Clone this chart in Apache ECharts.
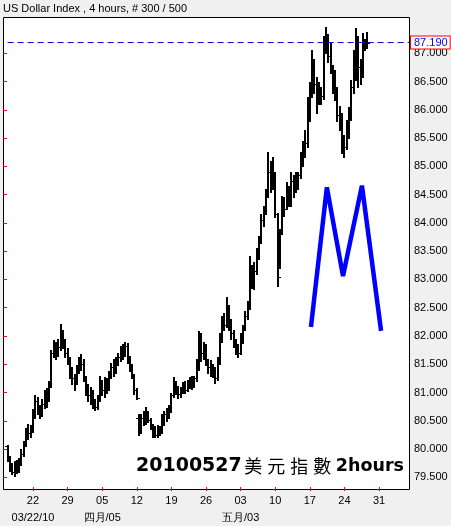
<!DOCTYPE html>
<html>
<head>
<meta charset="utf-8">
<script src="https://cdn.jsdelivr.net/npm/echarts@6/dist/echarts.min.js"></script>
<style>
html,body{margin:0;padding:0;background:#f0f0f0;}
#c{width:451px;height:526px;}
</style>
</head>
<body>
<div id="c"></div>
<script>
// ---- data (4-hour OHLC bars, slot index = position on the time axis) ----
const slotCount = 177;
const firstSlot = 2;
const barOpen = [
80.05,79.85,79.70,79.60,79.72,79.65,79.78,79.92,80.10,80.30,
80.28,80.35,80.60,80.85,80.70,80.62,80.80,80.95,80.88,81.15,
81.70,81.85,81.72,81.80,82.05,81.88,81.70,81.58,81.35,81.25,
81.20,81.40,81.58,81.50,81.25,81.05,80.95,81.00,80.80,80.75,
80.90,81.15,81.05,81.20,81.10,81.30,81.45,81.40,81.55,81.62,
81.75,81.70,81.82,81.60,81.45,81.30,81.05,80.55,80.30,80.55,
80.48,80.60,80.52,80.40,80.30,80.25,80.35,80.30,80.50,80.62,
80.58,80.70,80.95,81.15,81.05,80.98,81.05,81.12,81.05,81.15,
81.20,81.15,81.25,81.50,81.85,81.70,81.78,81.55,81.45,81.40,
81.35,81.25,81.55,81.95,82.25,82.20,82.45,82.20,82.05,81.85,
81.75,81.70,81.95,82.15,82.35,82.55,83.00,82.95,83.15,83.45,
83.70,84.05,84.25,84.50,84.90,84.80,84.85,84.15,83.25,83.85,
84.35,84.25,84.55,84.40,84.75,84.60,84.70,84.85,85.10,85.30,
85.42,85.90,86.30,86.70,86.45,86.20,86.35,86.25,87.10,87.25,
86.95,86.75,86.40,86.35,85.90,85.70,85.40,85.35,85.55,85.95,
86.40,86.90,87.20,86.75,86.60,87.10,87.15];
const barClose = [
79.85,79.70,79.60,79.72,79.65,79.78,79.92,80.10,80.30,80.28,
80.35,80.60,80.85,80.70,80.62,80.80,80.95,80.88,81.15,81.70,
81.85,81.72,81.80,82.05,81.88,81.70,81.58,81.35,81.25,81.20,
81.40,81.58,81.50,81.25,81.05,80.95,81.00,80.80,80.75,80.90,
81.15,81.05,81.20,81.10,81.30,81.45,81.40,81.55,81.62,81.75,
81.70,81.82,81.60,81.45,81.30,81.05,80.90,80.30,80.55,80.48,
80.60,80.52,80.40,80.30,80.25,80.35,80.30,80.50,80.62,80.58,
80.70,80.95,81.15,81.05,80.98,81.05,81.12,81.05,81.15,81.20,
81.15,81.25,81.50,81.85,81.70,81.78,81.55,81.45,81.40,81.35,
81.25,81.55,81.95,82.25,82.20,82.45,82.20,82.05,81.85,81.75,
81.70,81.95,82.15,82.35,82.55,83.00,82.95,83.15,83.45,83.70,
84.05,84.25,84.50,84.90,84.80,84.85,84.15,83.05,83.85,84.35,
84.25,84.55,84.40,84.75,84.60,84.70,84.85,85.10,85.30,85.42,
85.90,86.30,86.70,86.45,86.20,86.35,86.25,87.10,87.25,86.95,
86.75,86.40,86.35,85.90,85.70,85.40,85.35,85.55,85.95,86.40,
86.90,87.20,86.75,86.60,87.10,87.15,87.19];
const barLow = [
79.78,79.62,79.55,79.52,79.58,79.60,79.72,79.88,80.05,80.18,
80.22,80.30,80.55,80.62,80.55,80.58,80.72,80.75,80.85,81.10,
81.62,81.60,81.65,81.75,81.78,81.62,81.50,81.25,81.15,81.05,
81.15,81.35,81.40,81.20,80.95,80.85,80.80,80.72,80.69,80.70,
80.85,80.95,80.92,81.00,81.05,81.25,81.30,81.35,81.48,81.55,
81.60,81.65,81.52,81.38,81.25,80.98,80.88,80.25,80.28,80.42,
80.45,80.48,80.35,80.22,80.21,80.22,80.25,80.28,80.42,80.50,
80.55,80.65,80.92,80.98,80.90,80.92,81.00,81.00,81.02,81.08,
81.07,81.10,81.20,81.40,81.55,81.60,81.48,81.35,81.30,81.28,
81.16,81.22,81.50,81.90,82.10,82.15,82.10,81.95,81.80,81.68,
81.63,81.68,81.88,82.10,82.30,82.48,82.85,82.83,83.10,83.36,
83.65,83.95,84.15,84.45,84.55,84.60,84.10,82.89,83.20,83.80,
84.12,84.24,84.30,84.30,84.45,84.54,84.60,84.80,85.00,85.16,
85.35,85.80,86.23,86.30,85.95,86.10,86.10,86.20,87.00,86.85,
86.65,86.30,86.18,85.80,85.65,85.24,85.16,85.30,85.50,85.82,
86.30,86.53,86.40,86.45,86.58,87.05,87.10];
const barHigh = [
80.07,79.88,79.75,79.78,79.80,79.85,80.00,80.15,80.38,80.45,
80.42,80.70,80.95,80.92,80.78,80.88,81.05,81.08,81.20,81.75,
81.92,81.90,81.95,82.22,82.10,81.95,81.78,81.62,81.45,81.32,
81.48,81.62,81.68,81.60,81.30,81.15,81.10,81.05,80.88,80.95,
81.30,81.22,81.28,81.25,81.38,81.52,81.60,81.62,81.70,81.82,
81.85,81.90,81.88,81.65,81.50,81.32,81.08,80.62,80.62,80.68,
80.75,80.68,80.55,80.45,80.40,80.42,80.40,80.62,80.68,80.72,
80.78,81.00,81.28,81.20,81.12,81.10,81.18,81.20,81.22,81.28,
81.30,81.30,81.60,82.09,82.05,81.90,81.85,81.60,81.58,81.50,
81.45,81.62,82.05,82.35,82.40,82.69,82.55,82.30,82.10,81.95,
81.85,82.05,82.20,82.45,82.62,83.42,83.25,83.30,83.55,83.77,
84.15,84.30,84.60,85.26,85.10,85.16,84.90,84.18,83.90,84.47,
84.45,84.72,84.65,84.90,84.85,84.90,84.90,85.25,85.45,85.65,
86.23,86.50,87.06,86.90,86.58,86.50,86.40,87.30,87.46,87.35,
87.18,86.80,86.70,86.40,86.06,85.95,85.55,85.82,86.05,86.53,
87.05,87.45,87.30,86.90,87.36,87.25,87.37];

// week ticks (slot index) and labels
const weekTickSlot = [13,28,43,58,73,88,103,118,133,148,163];
const weekTickLabels = ['22','29','05','12','19','26','03','10','17','24','31'];
const monthLabels = ['03/22/10','','四月/05','','','','五月/03','','','',''];
const yTickMin = 79.5, yTickMax = 87.0, yTickStep = 0.5;

// last-price reference line
const lastPrice = 87.19;
const lastPriceLabel = '87.190';
const refLineX = [2, 176];

// hand-drawn "M" annotation (slot, price)
const mLineX = [133.5, 140.4, 147.4, 155.6, 163.9];
const mLineY = [82.16, 84.63, 83.06, 84.66, 82.09];

const titleText = 'US Dollar Index , 4 hours, # 300 / 500';

// ---- build ----
const categories = Array.from({length: slotCount}, (_, i) => String(i));
const tickMap = {};
weekTickSlot.forEach((s, k) => { tickMap[s] = k; });
const ohlcData = barOpen.map((o, k) => [firstSlot + k, o, barClose[k], barLow[k], barHigh[k]]);

function renderItem(params, api) {
  const s = api.value(0);
  const o = api.coord([s, api.value(1)]);
  const c = api.coord([s, api.value(2)]);
  const l = api.coord([s, api.value(3)]);
  const h = api.coord([s, api.value(4)]);
  const px = Math.round(o[0]);
  const st = {stroke: '#000', lineWidth: 1};
  return {
    type: 'group',
    children: [
      {type: 'line', shape: {x1: px, y1: Math.round(h[1]), x2: px, y2: Math.round(l[1]) + 1}, style: {stroke: '#000', lineWidth: 2}},
      {type: 'line', shape: {x1: px - 3, y1: Math.round(o[1]) + 0.5, x2: px, y2: Math.round(o[1]) + 0.5}, style: st},
      {type: 'line', shape: {x1: px, y1: Math.round(c[1]) + 0.5, x2: px + 3, y2: Math.round(c[1]) + 0.5}, style: st}
    ]
  };
}

const chart = echarts.init(document.getElementById('c'));
const FONT = 'Liberation Sans';
chart.setOption({
  animation: false,
  backgroundColor: '#f0f0f0',
  grid: {left: 3, right: 42, top: 53.3, bottom: 46.7, containLabel: false},
  xAxis: [{
    type: 'category',
    data: categories,
    boundaryGap: false,
    offset: 9.7,
    axisLine: {show: false},
    axisTick: {show: true, length: 4, interval: (i) => tickMap[i] !== undefined, lineStyle: {color: '#ff0000'}},
    axisLabel: {
      interval: (i) => tickMap[i] !== undefined,
      formatter: (v, i) => {
        const k = tickMap[i];
        if (k === undefined) return '';
        return monthLabels[k] ? weekTickLabels[k] + '\n' + monthLabels[k] : weekTickLabels[k];
      },
      color: '#000', fontSize: 11, fontFamily: FONT, lineHeight: 17, margin: 5
    },
    splitLine: {show: false}
  }, {
    type: 'value', min: 0, max: slotCount - 1, show: false
  }],
  yAxis: {
    type: 'value',
    position: 'right',
    min: yTickMin, max: yTickMax, interval: yTickStep,
    axisLine: {show: false},
    axisTick: {show: true, length: 4, lineStyle: {color: '#ff0000'}},
    axisLabel: {formatter: (v) => v.toFixed(3), color: '#000', fontSize: 11, fontFamily: FONT, margin: 5},
    splitLine: {show: false}
  },
  graphic: [
    {type: 'rect', z: -1, shape: {x: 3.5, y: 17.5, width: 406, height: 472},
     style: {fill: '#fff', stroke: '#000', lineWidth: 1}},
    {type: 'text', z: 5, x: 3, y: 8.5,
     style: {text: titleText, fill: '#000', font: '11px "Liberation Sans"', verticalAlign: 'middle'}},
    {type: 'text', z: 20, x: 136, y: 466,
     style: {
       text: '{d|20100527}{c|美}{c|元}{c|指}{c|數}{h|2hours}',
       verticalAlign: 'middle',
       rich: {
         d: {fontFamily: 'DejaVu Sans', fontWeight: 'bold', fontSize: 19, fill: '#000', color: '#000'},
         c: {fontFamily: 'Noto Sans CJK TC', fontSize: 18, fill: '#000', color: '#000', padding: [0, 2.5, 0, 2.5]},
         h: {fontFamily: 'DejaVu Sans', fontWeight: 'bold', fontSize: 17.5, fill: '#000', color: '#000', padding: [0, 0, 0, 2]}
       }
     }}
  ],
  series: [
    {
      type: 'custom',
      xAxisIndex: 0, yAxisIndex: 0,
      clip: false,
      renderItem: renderItem,
      encode: {x: 0, y: [1, 2, 3, 4]},
      data: ohlcData,
      z: 2
    },
    {
      type: 'line',
      xAxisIndex: 1, yAxisIndex: 0,
      clip: false,
      symbol: 'none',
      lineStyle: {color: '#0000e0', width: 1, type: [6, 4]},
      endLabel: {
        show: true, distance: 2, formatter: lastPriceLabel,
        color: '#0000ff', fontSize: 11, fontFamily: FONT,
        backgroundColor: '#ffffff', borderColor: '#ff0000', borderWidth: 1, padding: [1, 2, 0, 3]
      },
      data: refLineX.map((x) => [x, lastPrice]),
      z: 4,
      silent: true
    },
    {
      type: 'line',
      xAxisIndex: 1, yAxisIndex: 0,
      clip: false,
      symbol: 'none',
      lineStyle: {color: '#0000ff', width: 4.5},
      data: mLineX.map((x, k) => [x, mLineY[k]]),
      z: 5,
      silent: true
    }
  ]
});
</script>
</body>
</html>
